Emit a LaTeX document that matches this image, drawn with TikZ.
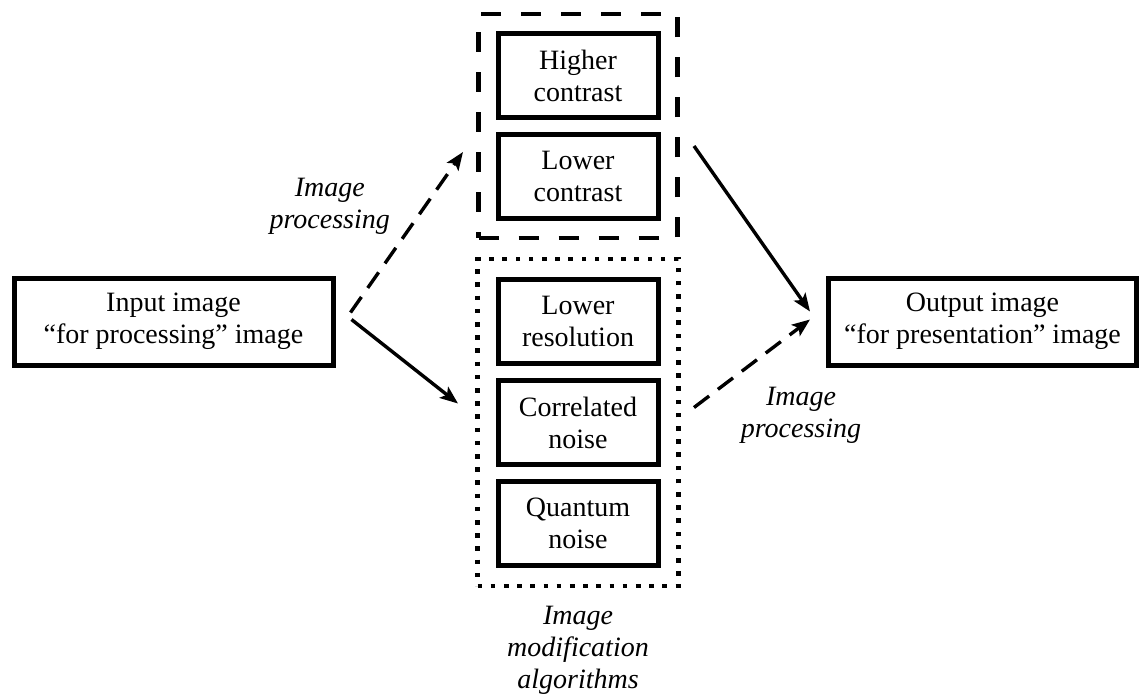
\documentclass[tikz,border=0pt]{standalone}
\usepackage{fontspec}
\setmainfont{Liberation Serif}
\usetikzlibrary{
  arrows.meta,
  fit,
  positioning,
}
\tikzset{
  >={Stealth[length=9pt,width=7pt,inset=2pt]},
  algobox/.style={draw,rectangle,line width=2.5pt,minimum width=80pt,minimum height=42pt,align=center},
  imagebox/.style={draw,rectangle,line width=2.5pt,minimum height=43.5pt,align=center},
  groupdash/.style={draw,rectangle,line width=2.3pt,dash pattern=on 10pt off 10pt,inner sep=8.5pt},
  groupdot/.style={draw,rectangle,line width=2.3pt,dash pattern=on 2.3pt off 4.3pt,inner sep=9pt},
  flow/.style={->,line width=1.7pt},
  flowdash/.style={flow,dash pattern=on 9.5pt off 5.5pt},
  caption/.style={align=center,font=\itshape},
}

\begin{document}
\begin{tikzpicture}[node distance=6pt]
        \fontsize{14}{16}\selectfont
        \useasboundingbox (0,0) rectangle (570pt,-348.5pt);

        % modification algorithms
        \node[algobox] (hicontrast) at (289pt,-37.75pt) {Higher\\contrast};
        \node[algobox] (locontrast) [below=of hicontrast] {Lower\\contrast};
        \node[algobox] (lowres)     [below=28pt of locontrast] {Lower\\resolution};
        \node[algobox] (corrnoise)  [below=of lowres] {Correlated\\noise};
        \node[algobox] (quantnoise) [below=of corrnoise] {Quantum\\noise};

        \node[groupdash,fit=(hicontrast) (locontrast)] (dashgroup) {};
        \node[groupdot,fit=(lowres) (quantnoise)] (dotgroup) {};
        \node[caption] (algolabel) [below=4pt of dotgroup] {Image\\modification\\algorithms};

        % input and output
        \node[imagebox,minimum width=159.5pt] (input)  [left=80pt of lowres]     {Input image\\“for processing” image};
        \node[imagebox,minimum width=154pt]   (output) [right=82.75pt of lowres] {Output image\\“for presentation” image};

        \coordinate[above right=4.5pt and 7.5pt of input.east] (inup);
        \coordinate[above right=1pt and 8pt of input.east] (indown);
        \coordinate[above left=12.25pt and 16.25pt of locontrast.west] (toproc);
        \coordinate[above left=9.5pt and 18.75pt of corrnoise.west] (tomod);
        \coordinate[above right=15.25pt and 16.75pt of locontrast.east] (fromproc);
        \coordinate[above right=7.5pt and 16.75pt of corrnoise.east] (frommod);
        \coordinate[above left=5pt and 8pt of output.west] (outup);
        \coordinate[above left=1pt and 8pt of output.west] (outdown);

        \draw[flowdash] (inup) -- (toproc)
            node[caption,midway,xshift=-38.5pt,yshift=12.75pt] (proclabel) {Image\\processing};
        \draw[flow] (indown) -- (tomod);
        \draw[flow] (fromproc) -- (outup);
        \draw[flowdash] (frommod) -- (outdown)
            node[caption,midway,xshift=24.5pt,yshift=-26pt] (presentlabel) {Image\\processing};
    \end{tikzpicture}
\end{document}
